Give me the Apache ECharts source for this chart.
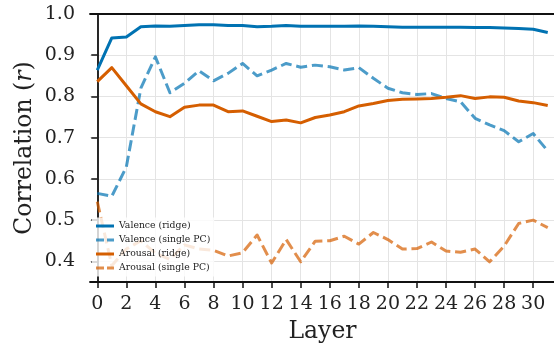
<!DOCTYPE html>
<html>
<head>
<meta charset="utf-8">
<script src="https://cdn.jsdelivr.net/npm/echarts@6/dist/echarts.min.js"></script>
<style>
html,body{margin:0;padding:0;background:#fff;}
#c{width:554px;height:347px;}
</style>
</head>
<body>
<div id="c"></div>
<script>
const layers = Array.from({length: 32}, (_, i) => i);
const xTicks = [0,2,4,6,8,10,12,14,16,18,20,22,24,26,28,30];
const yTicks = [0.4,0.5,0.6,0.7,0.8,0.9,1.0];

const valenceRidge = [0.864,0.942,0.944,0.969,0.971,0.970,0.972,0.974,0.974,0.972,0.972,0.969,0.970,0.972,0.970,0.970,0.970,0.970,0.971,0.970,0.969,0.968,0.968,0.968,0.968,0.968,0.967,0.967,0.966,0.965,0.963,0.955];
const valencePC = [0.565,0.558,0.629,0.820,0.896,0.809,0.832,0.862,0.838,0.856,0.880,0.850,0.864,0.880,0.871,0.876,0.872,0.864,0.870,0.844,0.820,0.809,0.805,0.807,0.795,0.787,0.747,0.731,0.717,0.690,0.710,0.668];
const arousalRidge = [0.836,0.870,0.826,0.782,0.763,0.751,0.774,0.779,0.779,0.763,0.765,0.752,0.739,0.743,0.736,0.749,0.755,0.763,0.777,0.783,0.790,0.793,0.794,0.795,0.798,0.802,0.795,0.799,0.798,0.789,0.785,0.778];
const arousalPC = [0.545,0.390,0.430,0.450,0.420,0.405,0.440,0.430,0.427,0.413,0.421,0.464,0.396,0.453,0.399,0.449,0.450,0.461,0.442,0.470,0.453,0.430,0.431,0.447,0.425,0.422,0.430,0.399,0.437,0.492,0.500,0.482];

const names = ['Valence (ridge)','Valence (single PC)','Arousal (ridge)','Arousal (single PC)'];

const FONT = 'DejaVu Serif';
const pair = arr => arr.map((v, i) => [layers[i], v]);
const SOLID_ICON = 'path://M0,0H18V3H0Z';
const DASH_ICON = 'path://M0,0H8V3H0Z M11,0H18V3H11Z';

function mk(name, arr, color, dashed) {
  return {
    name: name, type: 'line', data: pair(arr), xAxisIndex: 0, yAxisIndex: 0,
    symbol: 'none', showSymbol: false, smooth: false,
    lineStyle: {color: color, width: 3, type: dashed ? [11.1, 4.8] : 'solid', opacity: dashed ? 0.7 : 1, cap: 'butt', join: 'round'},
    itemStyle: {color: color, opacity: dashed ? 0.7 : 1},
    emphasis: {disabled: true}
  };
}

const chart = echarts.init(document.getElementById('c'), null, {renderer: 'canvas'});
chart.setOption({
  animation: false,
  backgroundColor: '#fff',
  grid: {left: 90, right: -1, top: 14, bottom: 65, containLabel: false, outerBoundsMode: 'none'},
  legend: {
    left: 92, top: 217.5, orient: 'vertical',
    itemWidth: 18, itemHeight: 3, itemGap: 3,
    padding: [3, 4, 3, 4],
    backgroundColor: 'rgba(255,255,255,0.8)',
    textStyle: {fontFamily: FONT, fontSize: 9.3, color: '#222', lineHeight: 11},
    data: [
      {name: names[0], icon: SOLID_ICON, itemStyle: {color: '#0072B2', opacity: 1}},
      {name: names[1], icon: DASH_ICON, itemStyle: {color: '#0072B2', opacity: 0.7}},
      {name: names[2], icon: SOLID_ICON, itemStyle: {color: '#D55E00', opacity: 1}},
      {name: names[3], icon: DASH_ICON, itemStyle: {color: '#D55E00', opacity: 0.7}}
    ]
  },
  xAxis: [{
    type: 'value', min: -0.5, max: 31.5,
    name: 'Layer', nameLocation: 'middle', nameGap: 38, nameMoveOverlap: false,
    nameTextStyle: {fontFamily: FONT, fontSize: 23.5, color: '#222'},
    axisLine: {show: true, lineStyle: {color: '#111', width: 1.8}},
    axisTick: {show: true, customValues: xTicks, length: 6, lineStyle: {color: '#111', width: 1.5}},
    axisLabel: {customValues: xTicks, fontFamily: FONT, fontSize: 19, color: '#222', margin: 13},
    splitLine: {show: true, lineStyle: {color: '#e4e4e4', width: 1}}
  }, {
    type: 'value', min: -0.5, max: 31.5, position: 'top',
    axisLine: {show: true, lineStyle: {color: '#111', width: 1.8}},
    axisTick: {show: false}, axisLabel: {show: false}, splitLine: {show: false}
  }],
  yAxis: [{
    type: 'value', min: 0.35, max: 1.0,
    name: 'Correlation ({i|r})', nameLocation: 'middle', nameGap: 53, nameRotate: 90, nameMoveOverlap: false,
    nameTextStyle: {fontFamily: FONT, fontSize: 23.5, color: '#222',
      rich: {i: {fontFamily: FONT, fontStyle: 'italic', fontSize: 23.5, color: '#222'}}},
    axisLine: {show: true, lineStyle: {color: '#111', width: 1.8}},
    axisTick: {show: true, customValues: yTicks, length: 6, lineStyle: {color: '#111', width: 1.5}},
    axisLabel: {customValues: yTicks, fontFamily: FONT, fontSize: 19, color: '#222', margin: 15,
      formatter: v => v.toFixed(1)},
    splitLine: {show: true, lineStyle: {color: '#e4e4e4', width: 1}}
  }],
  series: [
    mk(names[0], valenceRidge, '#0072B2', false),
    mk(names[1], valencePC, '#0072B2', true),
    mk(names[2], arousalRidge, '#D55E00', false),
    mk(names[3], arousalPC, '#D55E00', true)
  ]
});
</script>
</body>
</html>
